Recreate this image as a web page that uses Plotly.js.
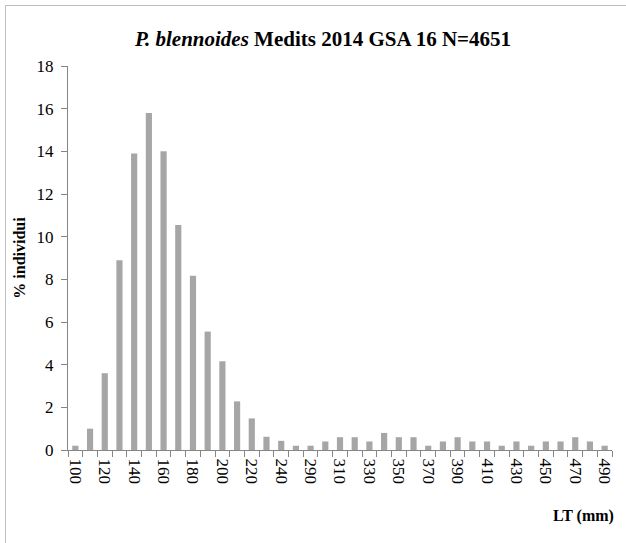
<!DOCTYPE html>
<html>
<head>
<meta charset="utf-8">
<script src="https://cdn.plot.ly/plotly-3.0.1.min.js"></script>
<style>html,body{margin:0;padding:0;background:#fff;}#chart{width:626px;height:543px;}</style>
</head>
<body>
<div id="chart"></div>
<script>
const categories = ['100','110','120','130','140','150','160','170','180','190','200','210','220','230','240','250','290','300','310','320','330','340','350','360','370','380','390','400','410','420','430','440','450','460','470','480','490'];
const values = [0.2,1.0,3.6,8.9,13.9,15.8,14.0,10.55,8.17,5.55,4.16,2.28,1.48,0.62,0.43,0.2,0.2,0.4,0.6,0.6,0.4,0.8,0.6,0.6,0.2,0.4,0.6,0.4,0.4,0.2,0.4,0.2,0.4,0.4,0.6,0.4,0.2];
const tickText = categories.map((c, i) => (i % 2 === 0 ? c : ''));

const font = '"Liberation Serif", "Times New Roman", Times, serif';
const L = 68, R = 14, T = 66, B = 93, W = 626, H = 543;
const pw = W - L - R, ph = H - T - B;
const px = x => (x - L) / pw;
const py = y => (H - B - y) / ph;

const data = [{
  type: 'bar',
  x: categories,
  y: values,
  marker: {color: '#a6a6a6', line: {width: 0}},
  hoverinfo: 'x+y'
}];

const layout = {
  width: W, height: H,
  margin: {l: L, r: R, t: T, b: B, pad: 0},
  paper_bgcolor: '#fff', plot_bgcolor: '#fff',
  bargap: 0.58,
  showlegend: false,
  font: {family: font, color: '#000', size: 17},
  title: {
    text: '<i>P. blennoides</i> Medits 2014 GSA 16 N=4651',
    font: {family: font, size: 21, color: '#000', weight: 'bold'},
    x: 323 / W, xref: 'container', xanchor: 'center',
    y: 1 - 39 / H, yanchor: 'middle'
  },
  xaxis: {
    type: 'category',
    tickmode: 'array',
    tickvals: categories,
    ticktext: tickText,
    tickson: 'boundaries',
    ticks: 'outside', ticklen: 6, tickcolor: '#868686', tickwidth: 1,
    ticklabelstandoff: 4,
    tickangle: 90,
    tickfont: {family: font, size: 17, color: '#000'},
    showline: true, linecolor: '#868686', linewidth: 1,
    showgrid: false, zeroline: false,
    range: [-0.5, categories.length - 0.5]
  },
  yaxis: {
    title: {text: '<b>% individui</b>', font: {family: font, size: 16, color: '#000'}, standoff: 6},
    range: [0, 18], dtick: 2, tick0: 0,
    ticks: 'outside', ticklen: 6, tickcolor: '#868686', tickwidth: 1,
    ticklabelstandoff: 4,
    tickfont: {family: font, size: 17, color: '#000'},
    showline: true, linecolor: '#868686', linewidth: 1,
    showgrid: false, zeroline: false
  },
  annotations: [{
    text: '<b>LT (mm)</b>',
    xref: 'paper', yref: 'paper',
    x: px(616), y: py(516), xanchor: 'right', yanchor: 'middle',
    showarrow: false,
    font: {family: font, size: 16, color: '#000'}
  }],
  shapes: [
    {type: 'line', xref: 'paper', yref: 'paper', x0: px(5.5), x1: px(5.5), y0: py(5), y1: py(543), line: {color: '#bfbfbf', width: 1}},
    {type: 'line', xref: 'paper', yref: 'paper', x0: px(5), x1: px(626), y0: py(5.5), y1: py(5.5), line: {color: '#bfbfbf', width: 1}}
  ]
};

Plotly.newPlot('chart', data, layout, {displayModeBar: false, staticPlot: true});
</script>
</body>
</html>
